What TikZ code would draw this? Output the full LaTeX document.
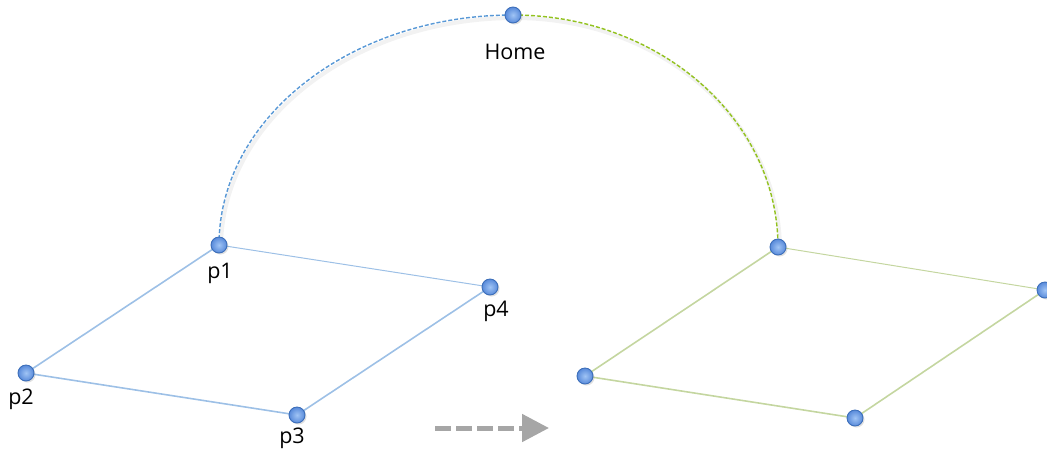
\documentclass[tikz,border=0pt]{standalone}
\usepackage{fontspec}
\setmainfont{Open Sans}
\usetikzlibrary{arrows.meta,shadows}
\definecolor{edgeblue}{RGB}{157,192,230}
\definecolor{edgegreen}{RGB}{196,214,160}
\definecolor{arcblue}{RGB}{88,152,214}
\definecolor{arcgreen}{RGB}{146,194,30}
\definecolor{ballhi}{RGB}{160,196,245}
\definecolor{ballblue}{RGB}{88,138,218}
\definecolor{ballrim}{RGB}{60,110,185}
\definecolor{arrowgray}{RGB}{166,166,166}
\tikzset{
  pt/.style={circle, minimum size=16pt, inner sep=0pt, draw=ballrim, line width=0.9pt,
             inner color=ballhi, outer color=ballblue,
             drop shadow={shadow xshift=1.5pt, shadow yshift=-1.5pt, opacity=0.2, fill=black!60}},
  lbl/.style={font=\fontsize{21.5}{24}\selectfont, text=black, inner sep=0pt},
  sideblue/.style={draw=edgeblue, line width=1.6pt},
  sidegreen/.style={draw=edgegreen, line width=1.6pt},
  thinblue/.style={draw=edgeblue, line width=1pt},
  thingreen/.style={draw=edgegreen, line width=1pt},
  arcline/.style={line width=1.4pt, dash pattern=on 4pt off 2pt},
  arcshade/.style={draw=black, opacity=0.05, line width=4pt},
  moveflow/.style={draw=arrowgray, line width=5pt, dash pattern=on 16pt off 5pt,
                   -{Triangle[length=27pt, width=27pt, fill=arrowgray]}}
}
\begin{document}
\begin{tikzpicture}[x=1pt, y=-1pt]
\useasboundingbox (0,0) rectangle (1047,451);

% point positions
\coordinate (home) at (513,15);
\coordinate (p1) at (219,245);
\coordinate (p2) at (26,373);
\coordinate (p3) at (297,415);
\coordinate (p4) at (490,287);
\coordinate (q1) at (778,247);
\coordinate (q2) at (585,376);
\coordinate (q3) at (855,418);
\coordinate (q4) at (1045,290);
\coordinate (flowstart) at (435,428);
\coordinate (flowend) at (549,428);

% soft halo under the route
\draw[arcshade] ([shift={(2,3)}]p1) .. controls ([shift={(2,3)}]219,118) and ([shift={(2,3)}]351,15) .. ([shift={(2,3)}]home)
  .. controls ([shift={(2,3)}]659,15) and ([shift={(2,3)}]778,119) .. ([shift={(2,3)}]q1);

% route out to home and back
\draw[arcline, arcblue] (p1) .. controls (219,118) and (351,15) .. (home);
\draw[arcline, arcgreen] (home) .. controls (659,15) and (778,119) .. (q1);

% left square
\draw[sideblue] (p1) -- (p2) -- (p3) -- (p4);
\draw[thinblue] (p1) -- (p4);

% right square
\draw[sidegreen] (q1) -- (q2) -- (q3) -- (q4);
\draw[thingreen] (q1) -- (q4);

% transfer arrow
\draw[moveflow] (flowstart) -- (flowend);

% points
\foreach \n in {home,p1,p2,p3,p4,q1,q2,q3,q4}
  \node[pt] (n\n) at (\n) {};

% labels
\node[lbl] (lhome) at (515,52) {Home};
\node[lbl] (lp1) at (220,273) {p1};
\node[lbl] (lp2) at (21,399) {p2};
\node[lbl] (lp3) at (292,438) {p3};
\node[lbl] (lp4) at (496,311) {p4};
\end{tikzpicture}
\end{document}
